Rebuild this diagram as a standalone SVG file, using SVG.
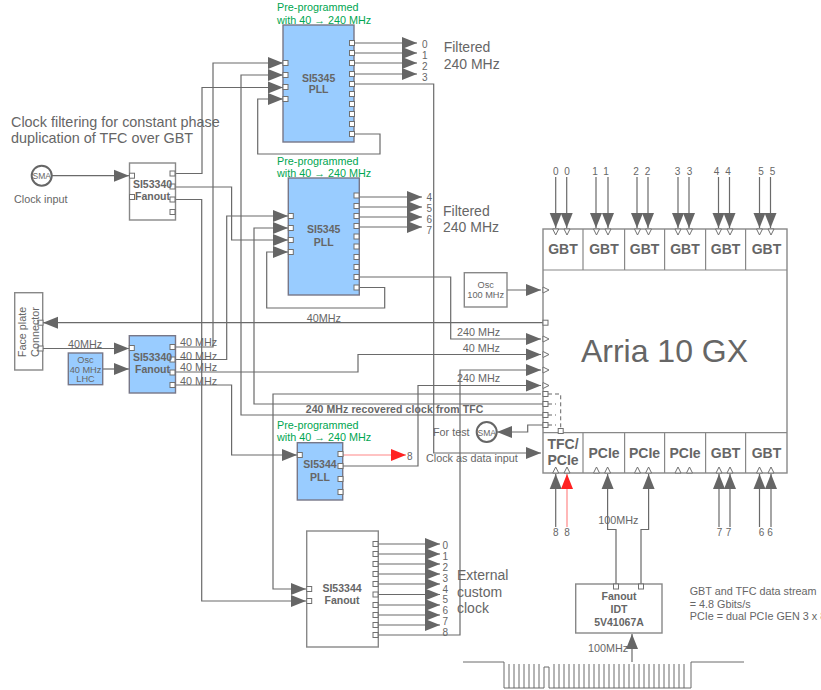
<svg xmlns="http://www.w3.org/2000/svg" width="821" height="690" viewBox="0 0 821 690">
<defs>
<marker id="ah" markerUnits="userSpaceOnUse" markerWidth="15" markerHeight="13" refX="15" refY="6.500" orient="auto"><path d="M0 .5L15 6.500L0 12.500Z" fill="#666"/></marker>
<marker id="ahr" markerUnits="userSpaceOnUse" markerWidth="15" markerHeight="13" refX="15" refY="6.500" orient="auto"><path d="M0 .5L15 6.500L0 12.500Z" fill="#f22"/></marker>
<path id="td" d="M-3 0L3 0L0 6Z" class="o"/>
<path id="tu" d="M-3 0L3 0L0 -6Z" class="o"/>
<path id="tr" d="M0 -3L0 3L6 0Z" class="o"/>
<rect id="p" width="5" height="5" class="o"/>
</defs>
<style>
text{font-family:"Liberation Sans",Arial,sans-serif;fill:#666;font-size:10.8px}
.c{fill:none;stroke:#6a6a6a;stroke-width:1.2}
.a{marker-end:url(#ah)}
.r{fill:none;stroke:#f88;stroke-width:1.2;marker-end:url(#ahr)}
.d{fill:none;stroke:#666;stroke-width:1;stroke-dasharray:4 3}
.o{fill:#fff;stroke:#707070;stroke-width:1}
.b{fill:#fff;stroke:#888;stroke-width:1.4}
.f{fill:#99ccff;stroke:#778;stroke-width:1.4}
.t{font-weight:bold;font-size:10.5px;text-anchor:middle}
.g{fill:#00a651;font-size:10.8px}
.h{font-size:14px;fill:#666}
.m{text-anchor:middle}
.q{font-weight:bold;font-size:14px;text-anchor:middle}
.n{font-size:10px}
.s{font-size:9.2px;text-anchor:middle}
</style>

<g id="connectors">
<path class="c a" d="M51 175.700H129"/>
<path class="c a" d="M175 173.500H202V87.500H283"/>
<path class="c a" d="M175 187H231.600V240H288"/>
<path class="c a" d="M175 199.500H201.700V601H306"/>
<path class="c a" d="M175 347H213V63H283"/>
<path class="c a" d="M175 359.500H226.700V216H288"/>
<path class="c a" d="M175 372H358V354.500H541"/>
<path class="c a" d="M175 385H231.600V455H297"/>
<path class="c a" d="M541 394H273V589H306"/>
<path class="c a" d="M543 404H254V228H288"/>
<path class="c a" d="M543 415H241V75H283"/>
<path class="c a" d="M543 425H527.700V432H497"/>
<path class="c a" d="M350 134H380V154H257.700V99H283"/>
<path class="c a" d="M354 43H417"/>
<path class="c a" d="M354 53H417"/>
<path class="c a" d="M354 63H417"/>
<path class="c a" d="M354 74H417"/>
<path class="c a" d="M354 84H433.700V453H541"/>
<path class="c a" d="M359 197H422"/>
<path class="c a" d="M359 207H422"/>
<path class="c a" d="M359 217H422"/>
<path class="c a" d="M359 227H422"/>
<path class="c a" d="M359 277H450.700V339H541"/>
<path class="c a" d="M359 287.500H384.700V308H266.700V252H288"/>
<path class="c a" d="M543 322.700H43"/>
<path class="c a" d="M43 348.500H129"/>
<path class="c a" d="M103 369H129"/>
<path class="c a" d="M507 290H541"/>
<path class="r" d="M343 455H406"/>
<path class="c a" d="M343 466H418V385.500H541"/>
<path class="c a" d="M378 544H440"/>
<path class="c a" d="M378 554H440"/>
<path class="c a" d="M378 564H440"/>
<path class="c a" d="M378 574H440"/>
<path class="c a" d="M378 584H440"/>
<path class="c a" d="M378 594.500H440"/>
<path class="c a" d="M378 605H440"/>
<path class="c a" d="M378 615H440"/>
<path class="c a" d="M378 625H440"/>
<path class="c a" d="M378 635H460V370H541"/>
<path class="c a" d="M555.700 177V228"/><path class="c a" d="M566.700 177V228"/>
<path class="c a" d="M596 177V228"/><path class="c a" d="M608 177V228"/>
<path class="c a" d="M637 177V228"/><path class="c a" d="M648 177V228"/>
<path class="c a" d="M678 177V228"/><path class="c a" d="M689 177V228"/>
<path class="c a" d="M718.500 177V228"/><path class="c a" d="M729.500 177V228"/>
<path class="c a" d="M759.500 177V228"/><path class="c a" d="M770.500 177V228"/>
<path class="c a" d="M555.700 527V474"/>
<path class="r" d="M567 527V474"/>
<path class="c a" d="M719 527V474"/><path class="c a" d="M730 527V474"/>
<path class="c a" d="M759.500 527V474"/><path class="c a" d="M771 527V474"/>
<path class="c a" d="M616 586V529.500H607.600V474"/>
<path class="c a" d="M641 586V529.500H648.600V474"/>
<path class="c a" d="M632 662V634"/>
<path class="d" d="M548 394H560.700V429"/>
<path class="d" d="M548 404H556"/>
<path class="d" d="M548 415H556"/>
<path class="d" d="M548 425H556"/>
</g>

<g id="pcb-edge">
<path class="c" style="stroke-width:1" d="M463 662H504V688H544V667H549V688H691V662H744"/>
<path class="c" style="stroke-width:1" d="M509 664V688M514 664V688M519 664V688M524 664V688M529 664V688M534 664V688M539 664V688M554 664V688M559 664V688M564 664V688M569 664V688M574 664V688M579 664V688M584 664V688M589 664V688M594 664V688M599 664V688M604 664V688M609 664V688M614 664V688M619 664V688M624 664V688M629 664V688M634 664V688M639 664V688M644 664V688M649 664V688M654 664V688M659 664V688M664 664V688M669 664V688M674 664V688M679 664V688M684 664V688"/>
</g>

<g id="pll1">
<rect class="f" x="283" y="25" width="71" height="117"/>
<use href="#p" x="283" y="60.500"/><use href="#p" x="283" y="72.500"/><use href="#p" x="283" y="84.500"/><use href="#p" x="283" y="96.500"/>
<use href="#p" x="349.500" y="40.500"/><use href="#p" x="349.500" y="50.500"/><use href="#p" x="349.500" y="60.500"/><use href="#p" x="349.500" y="71.500"/><use href="#p" x="349.500" y="81.500"/><use href="#p" x="349.500" y="91.500"/><use href="#p" x="349.500" y="101.500"/><use href="#p" x="349.500" y="111.500"/><use href="#p" x="349.500" y="121.500"/><use href="#p" x="349.500" y="131.500"/>
<text class="t" x="318.600" y="81.700">SI5345</text><text class="t" x="318.600" y="93">PLL</text>
<text class="g" x="277" y="11">Pre-programmed</text><text class="g" x="277" y="24">with 40 → 240 MHz</text>
</g>

<g id="pll2">
<rect class="f" x="288.300" y="178" width="71" height="117"/>
<use href="#p" x="288.300" y="213.500"/><use href="#p" x="288.300" y="225.500"/><use href="#p" x="288.300" y="237.500"/><use href="#p" x="288.300" y="249.500"/>
<use href="#p" x="354" y="193"/><use href="#p" x="354" y="203.500"/><use href="#p" x="354" y="213.500"/><use href="#p" x="354" y="223.500"/><use href="#p" x="354" y="234"/><use href="#p" x="354" y="244"/><use href="#p" x="354" y="254.500"/><use href="#p" x="354" y="264.500"/><use href="#p" x="354" y="274.500"/><use href="#p" x="354" y="285"/>
<text class="t" x="323.700" y="233">SI5345</text><text class="t" x="323.700" y="245.600">PLL</text>
<text class="g" x="277" y="164.600">Pre-programmed</text><text class="g" x="277" y="176.600">with 40 → 240 MHz</text>
</g>

<g id="pll3">
<rect class="f" x="297.300" y="442.700" width="45.400" height="57.300"/>
<use href="#p" x="297.300" y="452.500"/>
<use href="#p" x="338" y="451.500"/><use href="#p" x="338" y="463.500"/><use href="#p" x="338" y="476.500"/><use href="#p" x="338" y="489.500"/>
<text class="t" x="320" y="468">SI5344</text><text class="t" x="320" y="481">PLL</text>
<text class="g" x="277" y="429">Pre-programmed</text><text class="g" x="277" y="441">with 40 → 240 MHz</text>
</g>

<g id="fanout-top">
<rect class="b" x="129.500" y="163" width="46" height="57"/>
<use href="#p" x="129.500" y="173.200"/><use href="#p" x="129.500" y="194.500"/>
<use href="#p" x="170" y="171"/><use href="#p" x="170" y="184"/><use href="#p" x="170" y="197"/><use href="#p" x="170" y="209.500"/>
<text class="t" x="152.500" y="188">SI53340</text><text class="t" x="152.500" y="200">Fanout</text>
</g>

<g id="fanout-mid">
<rect class="f" x="129.300" y="335.700" width="46.200" height="57.300"/>
<use href="#p" x="129.300" y="345.500"/>
<use href="#p" x="170" y="344.500"/><use href="#p" x="170" y="357"/><use href="#p" x="170" y="370"/><use href="#p" x="170" y="382.500"/>
<text class="t" x="152.500" y="361">SI53340</text><text class="t" x="152.500" y="373">Fanout</text>
</g>

<g id="fanout-ext">
<rect class="b" x="306.700" y="531" width="71.600" height="116"/>
<use href="#p" x="306.700" y="586.500"/><use href="#p" x="306.700" y="598.500"/>
<use href="#p" x="373" y="541.500"/><use href="#p" x="373" y="551.500"/><use href="#p" x="373" y="561.500"/><use href="#p" x="373" y="571.500"/><use href="#p" x="373" y="581.500"/><use href="#p" x="373" y="592"/><use href="#p" x="373" y="602.500"/><use href="#p" x="373" y="612.500"/><use href="#p" x="373" y="622.500"/><use href="#p" x="373" y="632.500"/>
<text class="t" x="342" y="592">SI53344</text><text class="t" x="342" y="604">Fanout</text>
</g>

<g id="faceplate">
<rect class="b" x="14.700" y="292.700" width="28" height="77.300"/>
<use href="#p" x="38" y="320.200"/><use href="#p" x="38" y="346"/>
<text text-anchor="middle" transform="translate(26 332) rotate(-90)">Face plate</text>
<text text-anchor="middle" transform="translate(39 332) rotate(-90)">Connector</text>
</g>

<g id="osc-lhc">
<rect class="f" x="68.300" y="353" width="34.400" height="31.700"/>
<text class="s" x="85.500" y="362.500">Osc</text><text class="s" x="85.500" y="372.500">40 MHz</text><text class="s" x="85.500" y="382">LHC</text>
</g>

<g id="osc-100">
<rect class="b" x="464.300" y="272.700" width="42.700" height="34.300"/>
<text class="s" x="485.700" y="288">Osc</text><text class="s" x="485.700" y="298">100 MHz</text>
</g>

<g id="sma-in">
<circle cx="41.700" cy="175.700" r="10" fill="#fff" stroke="#666" stroke-width="2"/>
<text class="m" style="font-size:8.500px" x="41.700" y="179">SMA</text>
</g>
<g id="sma-test">
<circle cx="486.700" cy="432" r="10" fill="#fff" stroke="#666" stroke-width="2"/>
<text class="m" style="font-size:8.500px" x="486.700" y="435.500">SMA</text>
</g>

<g id="arria">
<rect class="b" x="543" y="229" width="244" height="244" fill-opacity="0"/>
<path class="c" style="stroke:#888" d="M543 270H787M543 432.700H787M583 229V270M624.600 229V270M664.600 229V270M705.600 229V270M745.600 229V270M583 432.700V473M624.600 432.700V473M664.600 432.700V473M705.600 432.700V473M745.600 432.700V473"/>
<text class="q" x="563" y="254">GBT</text><text class="q" x="604" y="254">GBT</text><text class="q" x="644.600" y="254">GBT</text><text class="q" x="685" y="254">GBT</text><text class="q" x="725.600" y="254">GBT</text><text class="q" x="766.500" y="254">GBT</text>
<text class="q" x="563" y="449">TFC/</text><text class="q" x="563" y="465">PCIe</text>
<text class="q" x="604" y="457.700">PCIe</text><text class="q" x="644.600" y="457.700">PCIe</text><text class="q" x="685" y="457.700">PCIe</text><text class="q" x="725.600" y="457.700">GBT</text><text class="q" x="766.500" y="457.700">GBT</text>
<text class="m" style="font-size:32px" x="664.500" y="362">Arria 10 GX</text>
<use href="#td" x="555.700" y="229"/><use href="#td" x="567" y="229"/><use href="#td" x="596.500" y="229"/><use href="#td" x="608" y="229"/><use href="#td" x="637.500" y="229"/><use href="#td" x="648.500" y="229"/><use href="#td" x="678" y="229"/><use href="#td" x="689.500" y="229"/><use href="#td" x="718.500" y="229"/><use href="#td" x="730" y="229"/><use href="#td" x="759.500" y="229"/><use href="#td" x="771" y="229"/>
<use href="#tu" x="555.700" y="473"/><use href="#tu" x="567" y="473"/><use href="#tu" x="596.500" y="473"/><use href="#tu" x="607.600" y="473"/><use href="#tu" x="637.500" y="473"/><use href="#tu" x="648.600" y="473"/><use href="#tu" x="678" y="473"/><use href="#tu" x="689.500" y="473"/><use href="#tu" x="719" y="473"/><use href="#tu" x="730" y="473"/><use href="#tu" x="759.500" y="473"/><use href="#tu" x="771" y="473"/>
<use href="#tr" x="543" y="290"/><use href="#tr" x="543" y="339"/><use href="#tr" x="543" y="354.500"/><use href="#tr" x="543" y="370"/><use href="#tr" x="543" y="385.500"/>
<use href="#p" x="543" y="320.200"/><use href="#p" x="543" y="391.500"/><use href="#p" x="543" y="401.500"/><use href="#p" x="543" y="412.500"/><use href="#p" x="543" y="422.500"/><use href="#p" x="558.200" y="428.500"/>
</g>

<g id="idt-fanout">
<rect class="b" x="575.700" y="584" width="86.300" height="49"/>
<use href="#p" x="613.500" y="584"/><use href="#p" x="638.500" y="584"/>
<text class="t" x="619" y="600">Fanout</text><text class="t" x="619" y="613">IDT</text><text class="t" x="619" y="626">5V41067A</text>
</g>

<g id="labels">
<text style="font-size:14.400px" x="11" y="127">Clock filtering for constant phase</text>
<text style="font-size:14.400px" x="11" y="143">duplication of TFC over GBT</text>
<text x="14" y="203">Clock input</text>
<text class="h" x="443.700" y="52">Filtered</text><text class="h" x="443.700" y="69">240 MHz</text>
<text class="h" x="443" y="215.700">Filtered</text><text class="h" x="443" y="231.700">240 MHz</text>
<text class="h" x="457" y="580">External</text><text class="h" x="457" y="596.700">custom</text><text class="h" x="457" y="613">clock</text>
<text class="n" x="422" y="48">0</text><text class="n" x="422" y="58.500">1</text><text class="n" x="422" y="69.500">2</text><text class="n" x="422" y="81">3</text>
<text class="n" x="426.500" y="200.500">4</text><text class="n" x="426.500" y="211.500">5</text><text class="n" x="426.500" y="222.500">6</text><text class="n" x="426.500" y="233.500">7</text>
<text class="n" x="442.500" y="548.500">0</text><text class="n" x="442.500" y="559.500">1</text><text class="n" x="442.500" y="570.500">2</text><text class="n" x="442.500" y="581.500">3</text><text class="n" x="442.500" y="592.500">4</text><text class="n" x="442.500" y="603">5</text><text class="n" x="442.500" y="614">6</text><text class="n" x="442.500" y="625">7</text><text class="n" x="442.500" y="635.500">8</text>
<text class="n" x="407" y="459.500">8</text>
<g class="m">
<text class="n m" x="555.700" y="174.800">0</text><text class="n m" x="567" y="174.800">0</text><text class="n m" x="595" y="174.800">1</text><text class="n m" x="606" y="174.800">1</text><text class="n m" x="636" y="174.800">2</text><text class="n m" x="647.500" y="174.800">2</text><text class="n m" x="677.500" y="174.800">3</text><text class="n m" x="689.500" y="174.800">3</text><text class="n m" x="716.500" y="174.800">4</text><text class="n m" x="728" y="174.800">4</text><text class="n m" x="761" y="174.800">5</text><text class="n m" x="772.500" y="174.800">5</text>
<text class="n m" x="555.700" y="535.800">8</text><text class="n m" x="567" y="535.800">8</text><text class="n m" x="719.500" y="535.800">7</text><text class="n m" x="728.500" y="535.800">7</text><text class="n m" x="761.500" y="535.800">6</text><text class="n m" x="770" y="535.800">6</text>
</g>
<text x="68" y="347.500">40MHz</text>
<text x="180" y="346">40 MHz</text><text x="180" y="360">40 MHz</text><text x="180" y="371">40 MHz</text><text x="180" y="385">40 MHz</text>
<text x="306.700" y="321.700">40MHz</text>
<text x="457" y="336">240 MHz</text><text x="462.700" y="352">40 MHz</text><text x="457" y="382">240 MHz</text>
<text style="font-weight:bold;font-size:10.500px;letter-spacing:.1px" x="305.700" y="412.700">240 MHz recovered clock from TFC</text>
<text x="433" y="435.700">For test</text>
<text x="426" y="461.600">Clock as data input</text>
<text x="598.300" y="524">100MHz</text>
<text x="588" y="652">100MHz</text>
<text x="689.700" y="595">GBT and TFC data stream</text><text x="689.700" y="607.500">= 4.8 Gbits/s</text><text x="689.700" y="620">PCIe = dual PCIe GEN 3 x 8</text>
</g>
</svg>
